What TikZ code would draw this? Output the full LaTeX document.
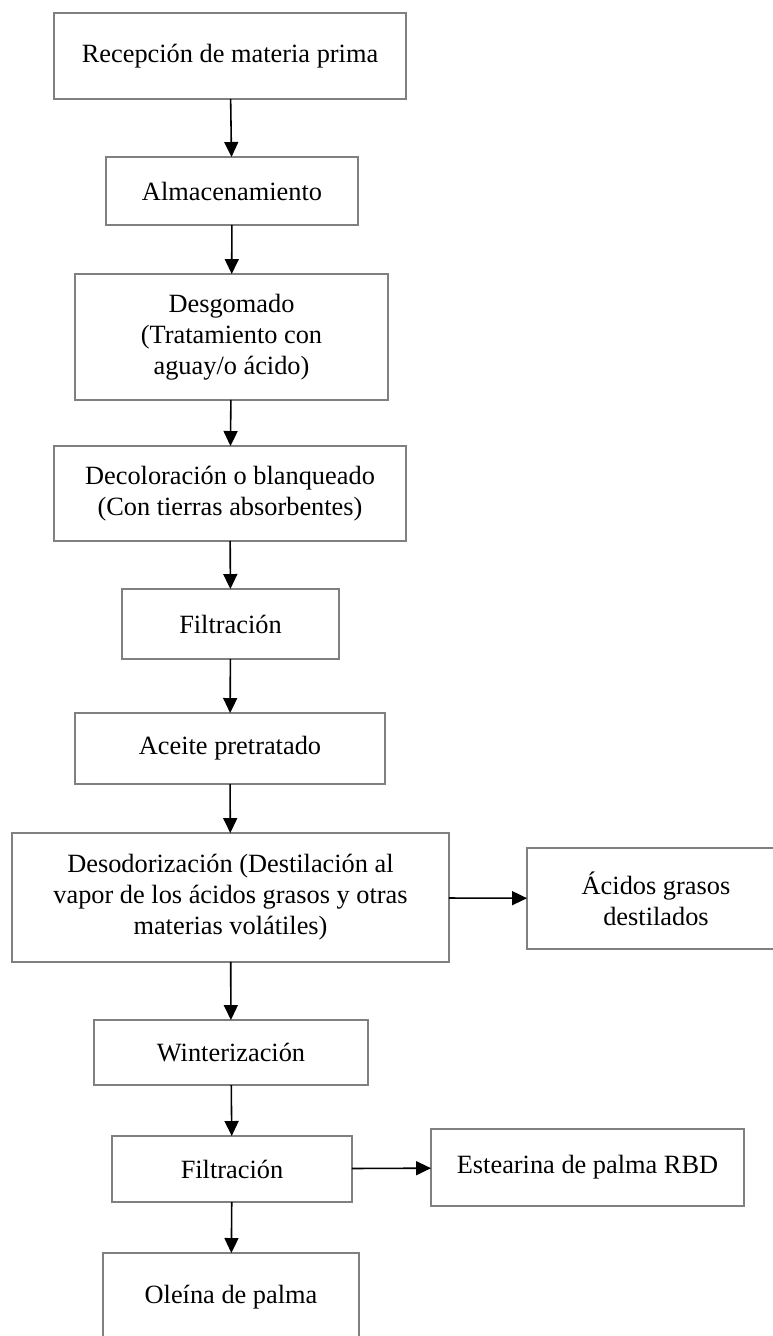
\documentclass[tikz,border=0pt]{standalone}
\usepackage{fontspec}
\setmainfont{Liberation Serif}
\usepackage{tikz}
\usetikzlibrary{arrows.meta}

\tikzset{
  caja/.style={draw=gray, line width=1.1pt, rectangle, inner sep=0pt, outer sep=0pt,
    align=center, font=\fontsize{15}{17.6}\selectfont},
  flecha/.style={line width=0.9pt, -{Triangle[length=0.3cm,width=0.28cm]}}
}

\begin{document}
\begin{tikzpicture}[x=0.02cm,y=-0.02cm]
\useasboundingbox (0,0) rectangle (773,1336);

\node[caja, minimum width=7.04cm, minimum height=1.72cm] (rec) at (230,56) {Recepción de materia prima};
\node[caja, minimum width=5.04cm, minimum height=1.36cm] (alm) at (232,191) {Almacenamiento};
\node[caja, minimum width=6.26cm, minimum height=2.52cm] (desg) at (231.5,337) {Desgomado\\(Tratamiento con\\aguay/o ácido)};
\node[caja, minimum width=7.04cm, minimum height=1.90cm] (deco) at (230,493.5) {Decoloración o blanqueado\\(Con tierras absorbentes)};
\node[caja, minimum width=4.34cm, minimum height=1.40cm] (filt) at (230.5,624) {Filtración};
\node[caja, minimum width=6.20cm, minimum height=1.42cm] (acei) at (230,748.5) {Aceite pretratado};

%-------------------------------------
\node[caja, minimum width=8.74cm, minimum height=2.58cm] (deso) at (230.5,897.5) {Desodorización (Destilación al\\vapor de los ácidos grasos y otras\\materias volátiles)};
\node[caja, minimum width=5.16cm, minimum height=2.02cm] (acid) at (656,898.5) {Ácidos grasos\\destilados};
\node[caja, minimum width=5.48cm, minimum height=1.30cm] (wint) at (231,1052.5) {Winterización};
\node[caja, minimum width=4.80cm, minimum height=1.32cm] (filtb) at (232,1169) {Filtración};
\node[caja, minimum width=6.26cm, minimum height=1.54cm] (este) at (587.5,1167.5) {Estearina de palma RBD};
\node[caja, minimum width=5.12cm, minimum height=1.76cm] (olei) at (231,1297) {Oleína de palma};

%-------------------------------------
\draw[flecha] (rec) -- (alm);
\draw[flecha] (alm) -- (desg);
\draw[flecha] (desg) -- (deco);
\draw[flecha] (deco) -- (filt);
\draw[flecha] (filt) -- (acei);
\draw[flecha] (acei) -- (deso);
\draw[flecha] (deso) -- (acid);
\draw[flecha] (deso) -- (wint);
\draw[flecha] (wint) -- (filtb);
\draw[flecha] (filtb) -- (este);
\draw[flecha] (filtb) -- (olei);
\end{tikzpicture}
\end{document}
